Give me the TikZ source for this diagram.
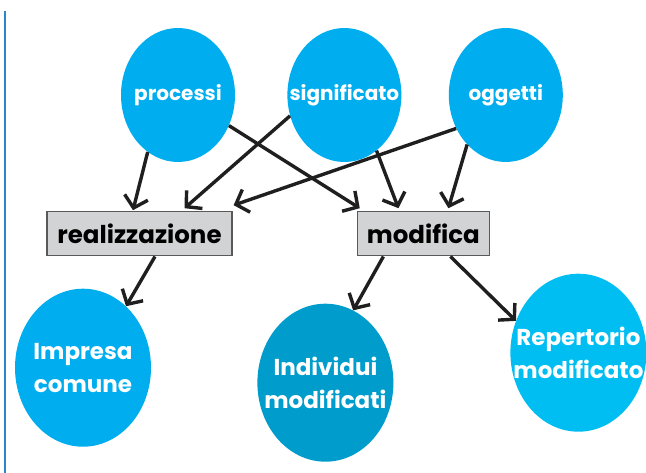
\documentclass[tikz,border=0pt]{standalone}
\usepackage{fontspec}
\setmainfont{Poppins}
\usetikzlibrary{positioning,shapes.geometric,arrows.meta}
\definecolor{conceptblue}{RGB}{0,174,239}
\definecolor{darkblue}{RGB}{0,156,204}
\definecolor{lightblue}{RGB}{0,190,242}
\definecolor{boxgray}{RGB}{209,211,212}
\definecolor{rulecol}{RGB}{40,136,200}
\tikzset{
  concept/.style={ellipse, fill=conceptblue, inner sep=0pt,
    minimum width=114pt, minimum height=134pt,
    label={[text=white, align=center,
      font=\bfseries\fontsize{20}{23}\selectfont]center:#1}},
  outcome/.style={ellipse, fill=conceptblue, inner sep=0pt,
    minimum width=136pt, minimum height=158pt,
    label={[text=white, align=center,
      font=\bfseries\fontsize{23}{33}\selectfont]center:#1}},
  action/.style={rectangle, draw=black!65, line width=1.3pt, fill=boxgray,
    inner sep=0pt, minimum height=44pt,
    font=\bfseries\fontsize{24.5}{28}\selectfont},
  relarrow/.style={line width=3.4pt, black!88,
    -{Straight Barb[length=11pt,width=24pt]}}
}

\begin{document}
\begin{tikzpicture}[x=1pt, y=-1pt]
    \useasboundingbox (0,0) rectangle (646,473);
    % left rule
    \draw[rulecol, line width=1.2pt] (5,11) -- (5,473);

    % Top nodes
    \node[concept=processi] (processi) at (178,95) {};
    \node[concept=significato, right=52pt of processi] (significato) {};
    \node[concept=oggetti, right=47pt of significato] (oggetti) {};

    % Boxes
    \node[action, minimum width=185pt, below=49pt of processi, xshift=-38.5pt] (realizzazione) {realizzazione};
    \node[action, minimum width=132pt, below=49pt of significato, xshift=79pt] (modifica) {modifica};

    % Bottom nodes
    \node[outcome={Impresa\\comune}, below=32pt of realizzazione, xshift=-56.5pt] (impresa) {};
    \node[outcome={Individui\\modificati}, fill=darkblue, below=47pt of modifica, xshift=-98pt] (individui) {};
    \node[outcome={Repertorio\\modificato}, fill=lightblue, below=17pt of modifica, xshift=155pt] (repertorio) {};

    % Into realizzazione
    \draw[relarrow] (processi.-118) -- ([xshift=-6.5pt, yshift=1pt]realizzazione.north); %
    \draw[relarrow] (significato.-159) -- ([xshift=45pt, yshift=3pt]realizzazione.north); %
    \draw[relarrow] (oggetti.-146) -- ([xshift=1pt, yshift=6pt]realizzazione.north east); %

    % Into modifica
    \draw[relarrow] (processi.-31) -- ([xshift=3pt, yshift=3pt]modifica.north west); %
    \draw[relarrow] (significato.-60) -- ([xshift=-25pt, yshift=3pt]modifica.north); %
    \draw[relarrow] (oggetti.-128) -- ([xshift=25pt, yshift=3pt]modifica.north); %

    % Outcomes
    \draw[relarrow] ([xshift=15.5pt]realizzazione.south) -- (impresa.55); %
    \draw[relarrow] ([xshift=-40pt]modifica.south) -- (individui.69); %
    \draw[relarrow] ([xshift=27pt]modifica.south) -- (repertorio.153); %
\end{tikzpicture}
\end{document}
